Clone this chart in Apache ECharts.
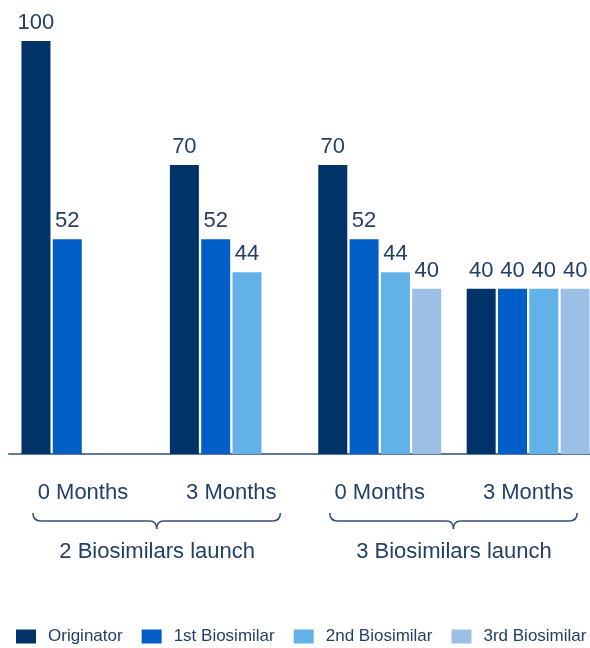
<!DOCTYPE html>
<html lang="en">
<head>
    <meta charset="UTF-8">
    <title>Biosimilars launch</title>
    <script src="https://cdn.jsdelivr.net/npm/echarts@6/dist/echarts.min.js"></script>
    <style>
        html, body {
            margin: 0;
            padding: 0;
            background: #ffffff;
            overflow: hidden;
        }
        /* the last bars run to the very edge of the picture, so the canvas is a little wider than the window */
        #chart {
            width: 604px;
            height: 648px;
        }
    </style>
</head>
<body>
    <div id="chart"></div>
    <script>
        // data
        var periods = ['0 Months', '3 Months', '0 Months', '3 Months'];
        var launches = ['2 Biosimilars launch', '3 Biosimilars launch'];
        var seriesNames = ['Originator', '1st Biosimilar', '2nd Biosimilar', '3rd Biosimilar'];
        var originator = [100, 70, 70, 40];
        var biosimilar1 = [52, 52, 52, 40];
        var biosimilar2 = ['-', 44, 44, 40];
        var biosimilar3 = ['-', '-', 40, 40];

        var colors = ['#003468', '#005ec6', '#62b2e8', '#9cbfe6'];
        var textColor = '#223f66';
        var lineColor = '#2f4c72';
        var font = '"Liberation Sans", Arial, sans-serif';

        var chart = echarts.init(document.getElementById('chart'));

        function barSeries(name, data) {
            return {
                name: name,
                type: 'bar',
                data: data,
                barWidth: 29,
                barGap: '8%',
                label: {
                    show: true,
                    position: 'top',
                    distance: 7,
                    fontSize: 22,
                    fontFamily: font,
                    color: textColor
                },
                emphasis: { disabled: true }
            };
        }

        chart.setOption({
            animation: false,
            color: colors,
            grid: {
                left: 8.75,
                width: 593.6,
                top: 41,
                bottom: 194
            },
            legend: {
                data: seriesNames,
                left: 11,
                top: 623,
                width: 590,
                itemWidth: 20,
                itemHeight: 14,
                itemGap: 19,
                icon: 'rect',
                textStyle: {
                    fontSize: 17,
                    fontFamily: font,
                    color: textColor,
                    padding: [0, 0, 0, 7]
                }
            },
            xAxis: [
                {
                    type: 'category',
                    data: periods,
                    axisLine: { lineStyle: { color: lineColor, width: 1.5 } },
                    axisTick: { show: false },
                    axisLabel: {
                        margin: 28,
                        fontSize: 22,
                        fontFamily: font,
                        color: textColor
                    }
                },
                {
                    type: 'category',
                    data: launches,
                    position: 'bottom',
                    axisLine: { show: false },
                    axisTick: { show: false },
                    axisLabel: {
                        margin: 87,
                        fontSize: 22,
                        fontFamily: font,
                        color: textColor
                    }
                }
            ],
            yAxis: {
                type: 'value',
                min: 0,
                max: 100,
                show: false
            },
            series: [
                barSeries(seriesNames[0], originator),
                barSeries(seriesNames[1], biosimilar1),
                barSeries(seriesNames[2], biosimilar2),
                barSeries(seriesNames[3], biosimilar3)
            ]
        });

        // curly braces under each pair of periods, built from curves and lines
        var braceStyle = { stroke: lineColor, lineWidth: 1.5, fill: null };

        function brace(x0, x1) {
            var y0 = 513, y1 = 521, y2 = 529;
            var xm = (x0 + x1) / 2;
            var parts = [
                { type: 'bezierCurve', shape: { x1: x0, y1: y0, cpx1: x0, cpy1: y1, x2: x0 + 8, y2: y1 } },
                { type: 'line', shape: { x1: x0 + 8, y1: y1, x2: xm - 7, y2: y1 } },
                { type: 'bezierCurve', shape: { x1: xm - 7, y1: y1, cpx1: xm, cpy1: y1, x2: xm, y2: y2 } },
                { type: 'bezierCurve', shape: { x1: xm, y1: y2, cpx1: xm, cpy1: y1, x2: xm + 7, y2: y1 } },
                { type: 'line', shape: { x1: xm + 7, y1: y1, x2: x1 - 8, y2: y1 } },
                { type: 'bezierCurve', shape: { x1: x1 - 8, y1: y1, cpx1: x1, cpy1: y1, x2: x1, y2: y0 } }
            ];
            parts.forEach(function (p) {
                p.style = braceStyle;
                p.silent = true;
            });
            return parts;
        }

        var braces = [];
        for (var i = 0; i < launches.length; i++) {
            var a = chart.convertToPixel({ xAxisIndex: 0 }, i * 2);
            var b = chart.convertToPixel({ xAxisIndex: 0 }, i * 2 + 1);
            braces = braces.concat(brace(a - 50, b + 49));
        }
        chart.setOption({ graphic: braces });
    </script>
</body>
</html>
